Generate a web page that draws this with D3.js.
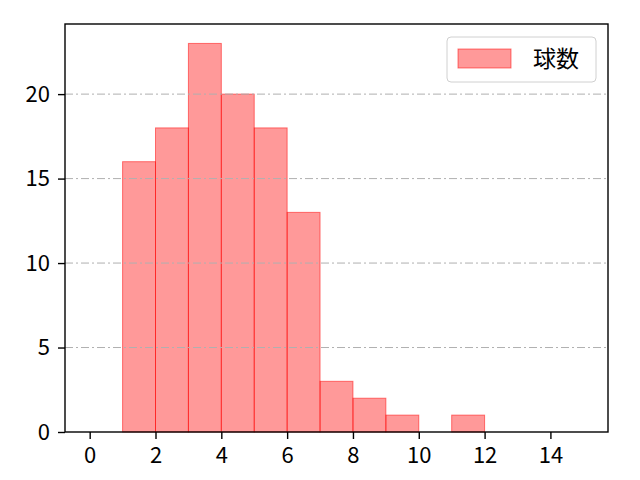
<!DOCTYPE html>
<html>
<head>
<meta charset="utf-8">
<script src="https://cdn.jsdelivr.net/npm/d3@7"></script>
<style>
  body { margin: 0; background: #fff; }
  svg { display: block; }
</style>
</head>
<body>
<div id="chart"></div>
<script>
// histogram bins (left edge) and counts
const binStarts = [1, 2, 3, 4, 5, 6, 7, 8, 9, 10, 11];
const counts = [16, 18, 23, 20, 18, 13, 3, 2, 1, 0, 1];
const xTicks = [0, 2, 4, 6, 8, 10, 12, 14];
const yTicks = [0, 5, 10, 15, 20];
const seriesName = '球数';

const width = 640;
const height = 480;
const margin = { top: 24, right: 32, bottom: 48, left: 65 };

const x = d3.scaleLinear().domain([-0.75, 15.75]).range([margin.left, width - margin.right]);
const y = d3.scaleLinear().domain([0, 23 * 1.05]).range([height - margin.bottom, margin.top]);

const svg = d3
  .select('#chart')
  .append('svg')
  .attr('width', width)
  .attr('height', height);

const bins = binStarts.map((s, i) => ({ x0: s, x1: s + 1, n: counts[i] }));

svg
  .append('g')
  .selectAll('rect')
  .data(bins.filter(d => d.n > 0))
  .enter()
  .append('rect')
  .attr('x', d => x(d.x0))
  .attr('y', d => y(d.n))
  .attr('width', d => x(d.x1) - x(d.x0))
  .attr('height', d => y(0) - y(d.n))
  .attr('fill', 'rgba(255,0,0,0.4)')
  .attr('stroke', 'rgba(255,0,0,0.5)')
  .attr('stroke-width', 1);

// horizontal grid on top of bars
svg
  .append('g')
  .selectAll('line')
  .data(yTicks.filter(t => t > 0))
  .enter()
  .append('line')
  .attr('x1', margin.left)
  .attr('x2', width - margin.right)
  .attr('y1', d => y(d))
  .attr('y2', d => y(d))
  .attr('stroke', '#b0b0b0')
  .attr('stroke-width', 1)
  .attr('stroke-dasharray', '8,3,2,3');

const xAxis = svg
  .append('g')
  .attr('transform', `translate(0,${height - margin.bottom})`)
  .call(d3.axisBottom(x).tickValues(xTicks).tickSize(7).tickPadding(8).tickFormat(d3.format('d')));

const yAxis = svg
  .append('g')
  .attr('transform', `translate(${margin.left},0)`)
  .call(d3.axisLeft(y).tickValues(yTicks).tickSize(7).tickPadding(8).tickFormat(d3.format('d')));

[xAxis, yAxis].forEach(a => {
  a.select('.domain').remove();
  a.selectAll('.tick line').attr('stroke', '#000').attr('stroke-width', 1.4);
  a.selectAll('.tick text')
    .attr('fill', '#000')
    .style('font-family', '"Noto Sans CJK JP", sans-serif')
    .style('font-size', '22px');
});

// frame
svg
  .append('rect')
  .attr('x', margin.left)
  .attr('y', margin.top)
  .attr('width', width - margin.left - margin.right)
  .attr('height', height - margin.top - margin.bottom)
  .attr('fill', 'none')
  .attr('stroke', '#000')
  .attr('stroke-width', 1.4);

// legend
const legend = svg.append('g').attr('transform', 'translate(447,37)');
legend
  .append('rect')
  .attr('width', 149)
  .attr('height', 45)
  .attr('rx', 4)
  .attr('fill', 'rgba(255,255,255,0.8)')
  .attr('stroke', '#d0d0d0');
legend
  .append('rect')
  .attr('x', 11)
  .attr('y', 12)
  .attr('width', 53)
  .attr('height', 19)
  .attr('fill', 'rgba(255,0,0,0.4)')
  .attr('stroke', 'rgba(255,0,0,0.5)');
legend
  .append('text')
  .attr('x', 86)
  .attr('y', 30)
  .attr('fill', '#000')
  .style('font-family', '"Noto Sans CJK JP", sans-serif')
  .style('font-size', '23px')
  .text(seriesName);
</script>
</body>
</html>
